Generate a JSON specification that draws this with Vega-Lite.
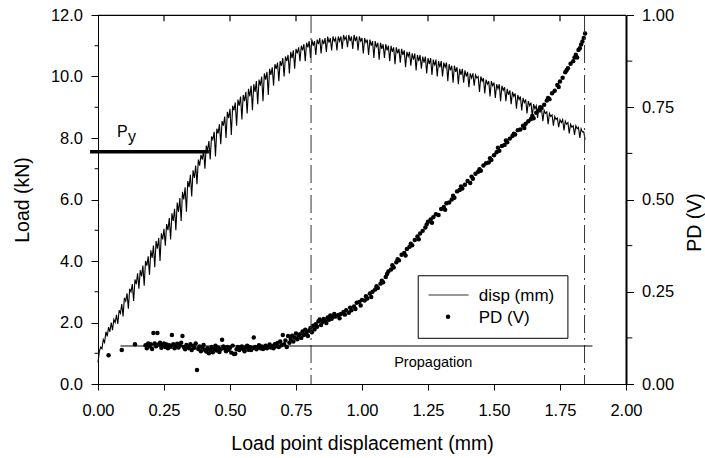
{
"$schema": "https://vega.github.io/schema/vega-lite/v6.json",
"width": 528, "height": 369,
"autosize": "none",
"padding": {"left": 98, "top": 15, "right": 79, "bottom": 74},
"config": {"view": {"stroke": null}, "font": "Liberation Sans",
 "axis": {"grid": false, "labelFlush": false, "labelOverlap": false, "domainColor": "black", "tickColor": "black", "labelColor": "black", "titleColor": "black", "labelFont": "Liberation Sans", "titleFont": "Liberation Sans", "labelFontSize": 16.5, "titleFontSize": 19.5, "titleFontWeight": "normal"},
 "text": {"font": "Liberation Sans", "color": "black"}},
"datasets": {
"load": [
{"x":0,"y":0.7},{"x":0.005,"y":1.05},{"x":0.01,"y":1.2},{"x":0.015,"y":1.15},{"x":0.02,"y":1.45},{"x":0.025,"y":1.35},{"x":0.03,"y":1.7},{"x":0.035,"y":1.55},{"x":0.04,"y":1.85},{"x":0.045,"y":1.7},
{"x":0.05,"y":2.0},{"x":0.055,"y":1.75},{"x":0.06,"y":2.1},{"x":0.065,"y":2.0},{"x":0.07,"y":2.25},{"x":0.075,"y":1.95},{"x":0.08,"y":2.4},{"x":0.085,"y":2.3},{"x":0.09,"y":2.6},{"x":0.095,"y":2.2},
{"x":0.1,"y":2.8},{"x":0.105,"y":2.7},{"x":0.11,"y":2.95},{"x":0.115,"y":2.45},{"x":0.12,"y":3.1},{"x":0.125,"y":3.0},{"x":0.13,"y":3.25},{"x":0.135,"y":2.7},{"x":0.14,"y":3.4},{"x":0.145,"y":3.25},
{"x":0.15,"y":3.6},{"x":0.155,"y":3.1},{"x":0.16,"y":3.7},{"x":0.165,"y":3.5},{"x":0.17,"y":3.85},{"x":0.175,"y":3.2},{"x":0.18,"y":4.0},{"x":0.185,"y":3.85},{"x":0.19,"y":4.15},{"x":0.195,"y":3.55},
{"x":0.2,"y":4.35},{"x":0.205,"y":4.1},{"x":0.21,"y":4.5},{"x":0.215,"y":3.8},{"x":0.22,"y":4.65},{"x":0.225,"y":4.4},{"x":0.23,"y":4.75},{"x":0.235,"y":4.0},{"x":0.24,"y":4.9},{"x":0.245,"y":4.7},
{"x":0.25,"y":5.05},{"x":0.255,"y":4.5},{"x":0.26,"y":5.2},{"x":0.265,"y":5.0},{"x":0.27,"y":5.4},{"x":0.275,"y":4.7},{"x":0.28,"y":5.55},{"x":0.285,"y":5.3},{"x":0.29,"y":5.7},{"x":0.295,"y":5.0},
{"x":0.3,"y":5.9},{"x":0.305,"y":5.6},{"x":0.31,"y":6.05},{"x":0.315,"y":5.3},{"x":0.32,"y":6.25},{"x":0.325,"y":6.0},{"x":0.33,"y":6.4},{"x":0.335,"y":5.6},{"x":0.34,"y":6.6},{"x":0.345,"y":6.4},
{"x":0.35,"y":6.8},{"x":0.355,"y":6.1},{"x":0.36,"y":6.95},{"x":0.365,"y":6.7},{"x":0.37,"y":7.1},{"x":0.375,"y":6.5},{"x":0.38,"y":7.3},{"x":0.385,"y":7.1},{"x":0.39,"y":7.45},{"x":0.395,"y":7.3},
{"x":0.4,"y":7.6},{"x":0.405,"y":7.0},{"x":0.41,"y":7.75},{"x":0.415,"y":7.6},{"x":0.42,"y":7.9},{"x":0.425,"y":7.3},{"x":0.43,"y":8.05},{"x":0.435,"y":7.95},{"x":0.44,"y":8.2},{"x":0.445,"y":7.4},
{"x":0.45,"y":8.3},{"x":0.455,"y":8.15},{"x":0.46,"y":8.45},{"x":0.465,"y":7.8},{"x":0.47,"y":8.55},{"x":0.475,"y":8.4},{"x":0.48,"y":8.7},{"x":0.485,"y":8.0},{"x":0.49,"y":8.85},{"x":0.495,"y":8.65},
{"x":0.5,"y":8.95},{"x":0.505,"y":8.1},{"x":0.51,"y":9.05},{"x":0.515,"y":8.9},{"x":0.52,"y":9.15},{"x":0.525,"y":8.4},{"x":0.53,"y":9.25},{"x":0.535,"y":9.05},{"x":0.54,"y":9.35},{"x":0.545,"y":8.6},
{"x":0.55,"y":9.4},{"x":0.555,"y":9.2},{"x":0.56,"y":9.5},{"x":0.565,"y":8.8},{"x":0.57,"y":9.6},{"x":0.575,"y":9.35},{"x":0.58,"y":9.7},{"x":0.585,"y":8.9},{"x":0.59,"y":9.75},{"x":0.595,"y":9.5},
{"x":0.6,"y":9.85},{"x":0.605,"y":9.1},{"x":0.61,"y":9.9},{"x":0.615,"y":9.7},{"x":0.62,"y":10.0},{"x":0.625,"y":9.2},{"x":0.63,"y":10.1},{"x":0.635,"y":9.9},{"x":0.64,"y":10.15},{"x":0.645,"y":9.4},
{"x":0.65,"y":10.25},{"x":0.655,"y":10.05},{"x":0.66,"y":10.3},{"x":0.665,"y":9.7},{"x":0.67,"y":10.4},{"x":0.675,"y":10.25},{"x":0.68,"y":10.45},{"x":0.685,"y":9.85},{"x":0.69,"y":10.5},{"x":0.695,"y":10.35},
{"x":0.7,"y":10.6},{"x":0.705,"y":10.0},{"x":0.71,"y":10.65},{"x":0.715,"y":10.5},{"x":0.72,"y":10.7},{"x":0.725,"y":10.1},{"x":0.73,"y":10.8},{"x":0.735,"y":10.6},{"x":0.74,"y":10.85},{"x":0.745,"y":10.25},
{"x":0.75,"y":10.9},{"x":0.755,"y":10.75},{"x":0.76,"y":10.95},{"x":0.765,"y":10.5},{"x":0.77,"y":11.0},{"x":0.775,"y":10.85},{"x":0.78,"y":11.05},{"x":0.785,"y":10.5},{"x":0.79,"y":11.1},{"x":0.795,"y":10.95},
{"x":0.8,"y":11.15},{"x":0.805,"y":10.6},{"x":0.81,"y":11.2},{"x":0.815,"y":11.0},{"x":0.82,"y":11.15},{"x":0.825,"y":10.7},{"x":0.83,"y":11.2},{"x":0.835,"y":11.05},{"x":0.84,"y":11.25},{"x":0.845,"y":10.75},
{"x":0.85,"y":11.2},{"x":0.855,"y":11.05},{"x":0.86,"y":11.25},{"x":0.865,"y":10.8},{"x":0.87,"y":11.3},{"x":0.875,"y":11.1},{"x":0.88,"y":11.25},{"x":0.885,"y":10.85},{"x":0.89,"y":11.3},{"x":0.895,"y":11.15},
{"x":0.9,"y":11.25},{"x":0.905,"y":10.85},{"x":0.91,"y":11.3},{"x":0.915,"y":11.15},{"x":0.92,"y":11.3},{"x":0.925,"y":10.9},{"x":0.93,"y":11.35},{"x":0.935,"y":11.2},{"x":0.94,"y":11.3},{"x":0.945,"y":10.95},
{"x":0.95,"y":11.35},{"x":0.955,"y":11.15},{"x":0.96,"y":11.3},{"x":0.965,"y":10.9},{"x":0.97,"y":11.35},{"x":0.975,"y":11.15},{"x":0.98,"y":11.3},{"x":0.985,"y":10.85},{"x":0.99,"y":11.3},{"x":0.995,"y":11.15},
{"x":1.0,"y":11.25},{"x":1.005,"y":10.75},{"x":1.01,"y":11.25},{"x":1.015,"y":11.1},{"x":1.02,"y":11.2},{"x":1.025,"y":10.7},{"x":1.03,"y":11.2},{"x":1.035,"y":11.0},{"x":1.04,"y":11.15},{"x":1.045,"y":10.6},
{"x":1.05,"y":11.15},{"x":1.055,"y":10.95},{"x":1.06,"y":11.1},{"x":1.065,"y":10.55},{"x":1.07,"y":11.1},{"x":1.075,"y":10.9},{"x":1.08,"y":11.05},{"x":1.085,"y":10.6},{"x":1.09,"y":11.05},{"x":1.095,"y":10.85},
{"x":1.1,"y":11.0},{"x":1.105,"y":10.5},{"x":1.11,"y":11.0},{"x":1.115,"y":10.8},{"x":1.12,"y":10.95},{"x":1.125,"y":10.4},{"x":1.13,"y":10.95},{"x":1.135,"y":10.75},{"x":1.14,"y":10.9},{"x":1.145,"y":10.45},
{"x":1.15,"y":10.9},{"x":1.155,"y":10.7},{"x":1.16,"y":10.85},{"x":1.165,"y":10.3},{"x":1.17,"y":10.8},{"x":1.175,"y":10.65},{"x":1.18,"y":10.8},{"x":1.185,"y":10.35},{"x":1.19,"y":10.75},{"x":1.195,"y":10.55},
{"x":1.2,"y":10.75},{"x":1.205,"y":10.2},{"x":1.21,"y":10.7},{"x":1.215,"y":10.5},{"x":1.22,"y":10.7},{"x":1.225,"y":10.25},{"x":1.23,"y":10.65},{"x":1.235,"y":10.45},{"x":1.24,"y":10.65},{"x":1.245,"y":10.1},
{"x":1.25,"y":10.6},{"x":1.255,"y":10.4},{"x":1.26,"y":10.6},{"x":1.265,"y":10.05},{"x":1.27,"y":10.55},{"x":1.275,"y":10.35},{"x":1.28,"y":10.55},{"x":1.285,"y":10.0},{"x":1.29,"y":10.5},{"x":1.295,"y":10.3},
{"x":1.3,"y":10.5},{"x":1.305,"y":10.0},{"x":1.31,"y":10.45},{"x":1.315,"y":10.3},{"x":1.32,"y":10.45},{"x":1.325,"y":9.85},{"x":1.33,"y":10.4},{"x":1.335,"y":10.2},{"x":1.34,"y":10.35},{"x":1.345,"y":9.8},
{"x":1.35,"y":10.35},{"x":1.355,"y":10.15},{"x":1.36,"y":10.3},{"x":1.365,"y":9.75},{"x":1.37,"y":10.25},{"x":1.375,"y":10.05},{"x":1.38,"y":10.25},{"x":1.385,"y":9.8},{"x":1.39,"y":10.2},{"x":1.395,"y":10.0},
{"x":1.4,"y":10.15},{"x":1.405,"y":9.65},{"x":1.41,"y":10.1},{"x":1.415,"y":9.95},{"x":1.42,"y":10.1},{"x":1.425,"y":9.7},{"x":1.43,"y":10.05},{"x":1.435,"y":9.95},{"x":1.44,"y":10.0},{"x":1.445,"y":9.5},
{"x":1.45,"y":10.0},{"x":1.455,"y":9.85},{"x":1.46,"y":9.95},{"x":1.465,"y":9.45},{"x":1.47,"y":9.9},{"x":1.475,"y":9.75},{"x":1.48,"y":9.85},{"x":1.485,"y":9.35},{"x":1.49,"y":9.85},{"x":1.495,"y":9.7},
{"x":1.5,"y":9.8},{"x":1.505,"y":9.3},{"x":1.51,"y":9.75},{"x":1.515,"y":9.6},{"x":1.52,"y":9.75},{"x":1.525,"y":9.2},{"x":1.53,"y":9.7},{"x":1.535,"y":9.55},{"x":1.54,"y":9.65},{"x":1.545,"y":9.2},
{"x":1.55,"y":9.6},{"x":1.555,"y":9.4},{"x":1.56,"y":9.55},{"x":1.565,"y":9.1},{"x":1.57,"y":9.5},{"x":1.575,"y":9.35},{"x":1.58,"y":9.45},{"x":1.585,"y":8.95},{"x":1.59,"y":9.4},{"x":1.595,"y":9.25},
{"x":1.6,"y":9.35},{"x":1.605,"y":8.9},{"x":1.61,"y":9.3},{"x":1.615,"y":9.15},{"x":1.62,"y":9.25},{"x":1.625,"y":8.8},{"x":1.63,"y":9.2},{"x":1.635,"y":9.05},{"x":1.64,"y":9.15},{"x":1.645,"y":8.7},
{"x":1.65,"y":9.1},{"x":1.655,"y":8.95},{"x":1.66,"y":9.05},{"x":1.665,"y":8.65},{"x":1.67,"y":9.0},{"x":1.675,"y":8.85},{"x":1.68,"y":8.95},{"x":1.685,"y":8.55},{"x":1.69,"y":8.9},{"x":1.695,"y":8.8},
{"x":1.7,"y":8.85},{"x":1.705,"y":8.45},{"x":1.71,"y":8.8},{"x":1.715,"y":8.7},{"x":1.72,"y":8.75},{"x":1.725,"y":8.4},{"x":1.73,"y":8.7},{"x":1.735,"y":8.6},{"x":1.74,"y":8.65},{"x":1.745,"y":8.35},
{"x":1.75,"y":8.6},{"x":1.755,"y":8.5},{"x":1.76,"y":8.6},{"x":1.765,"y":8.25},{"x":1.77,"y":8.55},{"x":1.775,"y":8.45},{"x":1.78,"y":8.5},{"x":1.785,"y":8.15},{"x":1.79,"y":8.45},{"x":1.795,"y":8.35},
{"x":1.8,"y":8.4},{"x":1.805,"y":8.1},{"x":1.81,"y":8.4},{"x":1.815,"y":8.3},{"x":1.82,"y":8.35},{"x":1.825,"y":8.0},{"x":1.83,"y":8.3},{"x":1.835,"y":8.2},{"x":1.84,"y":8.2},{"x":1.845,"y":7.95}
],
"pd": [
{"x":0.04,"v":0.078},{"x":0.09,"v":0.092},{"x":0.14,"v":0.108},{"x":0.18,"v":0.105},{"x":0.185,"v":0.097},{"x":0.19,"v":0.11},{"x":0.195,"v":0.102},{"x":0.2,"v":0.108},{"x":0.205,"v":0.095},{"x":0.21,"v":0.138},
{"x":0.215,"v":0.11},{"x":0.22,"v":0.102},{"x":0.225,"v":0.138},{"x":0.23,"v":0.107},{"x":0.235,"v":0.112},{"x":0.24,"v":0.098},{"x":0.245,"v":0.104},{"x":0.25,"v":0.11},{"x":0.255,"v":0.1},{"x":0.26,"v":0.107},
{"x":0.265,"v":0.097},{"x":0.27,"v":0.105},{"x":0.275,"v":0.101},{"x":0.28,"v":0.133},{"x":0.285,"v":0.108},{"x":0.29,"v":0.097},{"x":0.295,"v":0.103},{"x":0.3,"v":0.109},{"x":0.305,"v":0.099},{"x":0.31,"v":0.104},
{"x":0.315,"v":0.112},{"x":0.32,"v":0.13},{"x":0.325,"v":0.1},{"x":0.33,"v":0.094},{"x":0.335,"v":0.106},{"x":0.34,"v":0.101},{"x":0.345,"v":0.097},{"x":0.35,"v":0.108},{"x":0.355,"v":0.092},{"x":0.36,"v":0.103},
{"x":0.365,"v":0.098},{"x":0.37,"v":0.11},{"x":0.375,"v":0.038},{"x":0.38,"v":0.095},{"x":0.385,"v":0.102},{"x":0.39,"v":0.089},{"x":0.395,"v":0.099},{"x":0.4,"v":0.106},{"x":0.405,"v":0.093},{"x":0.41,"v":0.088},
{"x":0.415,"v":0.097},{"x":0.42,"v":0.083},{"x":0.425,"v":0.092},{"x":0.43,"v":0.1},{"x":0.435,"v":0.086},{"x":0.44,"v":0.095},{"x":0.445,"v":0.104},{"x":0.45,"v":0.091},{"x":0.455,"v":0.098},{"x":0.46,"v":0.087},
{"x":0.465,"v":0.094},{"x":0.47,"v":0.12},{"x":0.475,"v":0.102},{"x":0.48,"v":0.096},{"x":0.485,"v":0.089},{"x":0.49,"v":0.1},{"x":0.495,"v":0.093},{"x":0.5,"v":0.098},{"x":0.505,"v":0.085},{"x":0.51,"v":0.104},
{"x":0.515,"v":0.081},{"x":0.52,"v":0.082},{"x":0.525,"v":0.094},{"x":0.53,"v":0.1},{"x":0.535,"v":0.092},{"x":0.54,"v":0.097},{"x":0.545,"v":0.102},{"x":0.55,"v":0.095},{"x":0.555,"v":0.089},{"x":0.56,"v":0.099},
{"x":0.565,"v":0.104},{"x":0.57,"v":0.093},{"x":0.575,"v":0.1},{"x":0.58,"v":0.092},{"x":0.585,"v":0.097},{"x":0.59,"v":0.126},{"x":0.595,"v":0.1},{"x":0.6,"v":0.094},{"x":0.605,"v":0.099},{"x":0.61,"v":0.105},
{"x":0.615,"v":0.097},{"x":0.62,"v":0.102},{"x":0.625,"v":0.095},{"x":0.63,"v":0.1},{"x":0.635,"v":0.104},{"x":0.64,"v":0.097},{"x":0.645,"v":0.101},{"x":0.65,"v":0.107},{"x":0.655,"v":0.099},{"x":0.66,"v":0.103},
{"x":0.665,"v":0.097},{"x":0.67,"v":0.108},{"x":0.675,"v":0.102},{"x":0.68,"v":0.111},{"x":0.685,"v":0.1},{"x":0.69,"v":0.115},{"x":0.695,"v":0.105},{"x":0.7,"v":0.133},{"x":0.705,"v":0.108},{"x":0.71,"v":0.118},
{"x":0.715,"v":0.1},{"x":0.72,"v":0.13},{"x":0.725,"v":0.112},{"x":0.73,"v":0.122},{"x":0.735,"v":0.131},{"x":0.74,"v":0.115},{"x":0.745,"v":0.126},{"x":0.75,"v":0.137},{"x":0.755,"v":0.121},{"x":0.76,"v":0.128},
{"x":0.765,"v":0.135},{"x":0.77,"v":0.125},{"x":0.775,"v":0.142},{"x":0.78,"v":0.133},{"x":0.785,"v":0.147},{"x":0.79,"v":0.138},{"x":0.795,"v":0.13},{"x":0.8,"v":0.145},{"x":0.805,"v":0.152},{"x":0.81,"v":0.14},
{"x":0.815,"v":0.158},{"x":0.82,"v":0.148},{"x":0.825,"v":0.162},{"x":0.83,"v":0.155},{"x":0.835,"v":0.17},{"x":0.84,"v":0.175},{"x":0.845,"v":0.16},{"x":0.85,"v":0.168},{"x":0.855,"v":0.176},{"x":0.86,"v":0.172},
{"x":0.865,"v":0.165},{"x":0.87,"v":0.18},{"x":0.875,"v":0.174},{"x":0.88,"v":0.186},{"x":0.885,"v":0.177},{"x":0.89,"v":0.182},{"x":0.895,"v":0.19},{"x":0.9,"v":0.183},{"x":0.91,"v":0.187},{"x":0.915,"v":0.178},
{"x":0.92,"v":0.19},{"x":0.93,"v":0.195},{"x":0.935,"v":0.188},{"x":0.94,"v":0.2},{"x":0.95,"v":0.193},{"x":0.955,"v":0.207},{"x":0.96,"v":0.2},{"x":0.97,"v":0.21},{"x":0.975,"v":0.203},{"x":0.98,"v":0.22},
{"x":0.99,"v":0.222},{"x":0.995,"v":0.213},{"x":1.0,"v":0.228},{"x":1.01,"v":0.226},{"x":1.015,"v":0.238},{"x":1.02,"v":0.232},{"x":1.03,"v":0.245},{"x":1.035,"v":0.236},{"x":1.04,"v":0.25},{"x":1.05,"v":0.256},
{"x":1.055,"v":0.265},{"x":1.06,"v":0.26},{"x":1.07,"v":0.272},{"x":1.075,"v":0.28},{"x":1.08,"v":0.276},{"x":1.09,"v":0.29},{"x":1.095,"v":0.298},{"x":1.1,"v":0.305},{"x":1.11,"v":0.31},{"x":1.115,"v":0.322},
{"x":1.12,"v":0.316},{"x":1.13,"v":0.33},{"x":1.135,"v":0.338},{"x":1.14,"v":0.335},{"x":1.15,"v":0.35},{"x":1.16,"v":0.355},{"x":1.165,"v":0.348},{"x":1.17,"v":0.366},{"x":1.18,"v":0.372},{"x":1.185,"v":0.38},
{"x":1.19,"v":0.376},{"x":1.2,"v":0.39},{"x":1.21,"v":0.4},{"x":1.215,"v":0.392},{"x":1.22,"v":0.408},{"x":1.23,"v":0.415},{"x":1.24,"v":0.424},{"x":1.245,"v":0.432},{"x":1.25,"v":0.44},{"x":1.26,"v":0.446},
{"x":1.265,"v":0.437},{"x":1.27,"v":0.452},{"x":1.28,"v":0.46},{"x":1.29,"v":0.458},{"x":1.3,"v":0.474},{"x":1.31,"v":0.48},{"x":1.315,"v":0.472},{"x":1.32,"v":0.49},{"x":1.33,"v":0.492},{"x":1.34,"v":0.5},
{"x":1.345,"v":0.51},{"x":1.35,"v":0.505},{"x":1.36,"v":0.522},{"x":1.37,"v":0.526},{"x":1.375,"v":0.535},{"x":1.38,"v":0.53},{"x":1.39,"v":0.54},{"x":1.4,"v":0.55},{"x":1.41,"v":0.545},{"x":1.415,"v":0.562},
{"x":1.42,"v":0.556},{"x":1.43,"v":0.57},{"x":1.44,"v":0.575},{"x":1.445,"v":0.582},{"x":1.45,"v":0.578},{"x":1.46,"v":0.592},{"x":1.47,"v":0.598},{"x":1.48,"v":0.6},{"x":1.485,"v":0.612},{"x":1.49,"v":0.607},
{"x":1.5,"v":0.62},{"x":1.51,"v":0.628},{"x":1.515,"v":0.64},{"x":1.52,"v":0.632},{"x":1.53,"v":0.645},{"x":1.54,"v":0.648},{"x":1.545,"v":0.66},{"x":1.55,"v":0.655},{"x":1.56,"v":0.665},{"x":1.57,"v":0.672},
{"x":1.575,"v":0.678},{"x":1.58,"v":0.676},{"x":1.59,"v":0.688},{"x":1.6,"v":0.69},{"x":1.61,"v":0.7},{"x":1.615,"v":0.694},{"x":1.62,"v":0.705},{"x":1.63,"v":0.712},{"x":1.64,"v":0.718},{"x":1.645,"v":0.726},
{"x":1.65,"v":0.72},{"x":1.66,"v":0.735},{"x":1.67,"v":0.742},{"x":1.675,"v":0.75},{"x":1.68,"v":0.748},{"x":1.69,"v":0.757},{"x":1.7,"v":0.768},{"x":1.705,"v":0.775},{"x":1.71,"v":0.772},{"x":1.72,"v":0.788},
{"x":1.73,"v":0.795},{"x":1.74,"v":0.81},{"x":1.745,"v":0.805},{"x":1.75,"v":0.82},{"x":1.76,"v":0.83},{"x":1.77,"v":0.845},{"x":1.775,"v":0.85},{"x":1.78,"v":0.856},{"x":1.79,"v":0.868},{"x":1.8,"v":0.875},
{"x":1.805,"v":0.885},{"x":1.81,"v":0.892},{"x":1.815,"v":0.885},{"x":1.82,"v":0.905},{"x":1.825,"v":0.91},{"x":1.83,"v":0.92},{"x":1.835,"v":0.928},{"x":1.84,"v":0.938},{"x":1.845,"v":0.95}
]
},
"resolve": {"scale": {"x": "independent", "y": "independent"}, "axis": {"x": "independent", "y": "independent"}},
"layer": [
{"data": {"name": "load"},
 "mark": {"type": "line", "color": "black", "strokeWidth": 1.1},
 "encoding": {
  "x": {"field": "x", "type": "quantitative", "scale": {"domain": [0, 2], "nice": false},
   "axis": {"orient": "bottom", "values": [0, 0.25, 0.5, 0.75, 1, 1.25, 1.5, 1.75, 2], "format": ".2f", "tickSize": 6, "labelPadding": 12, "title": "Load point displacement (mm)", "titlePadding": 16}},
  "y": {"field": "y", "type": "quantitative", "scale": {"domain": [0, 12], "nice": false, "zero": false},
   "axis": {"orient": "left", "values": [0, 2, 4, 6, 8, 10, 12], "format": ".1f", "tickSize": 7, "labelPadding": 8.5, "title": "Load (kN)", "titlePadding": 18}}}},
{"data": {"name": "pd"},
 "mark": {"type": "point", "filled": true, "color": "black", "size": 20, "opacity": 1},
 "encoding": {
  "x": {"field": "x", "type": "quantitative", "scale": {"domain": [0, 2], "nice": false}, "axis": null},
  "y": {"field": "v", "type": "quantitative", "scale": {"domain": [0, 1], "nice": false, "zero": false},
   "axis": {"orient": "right", "values": [0, 0.25, 0.5, 0.75, 1], "format": ".2f", "tickSize": 7.5, "labelPadding": 8, "domainWidth": 2, "title": "PD (V)", "titleAngle": 270, "titleBaseline": "alphabetic", "titleX": 74, "titleY": 207}}}},
{"data": {"values": [{"x": 0.807}, {"x": 1.843}]},
 "mark": {"type": "rule", "color": "#333333", "strokeWidth": 1, "strokeDash": [18, 5, 2, 5]},
 "encoding": {"x": {"field": "x", "type": "quantitative", "scale": {"domain": [0, 2], "nice": false}, "axis": null}}},
{"data": {"values": [{"x1": 0, "x2": 2, "y": 11.985}]},
 "mark": {"type": "rule", "color": "black", "strokeWidth": 1.3},
 "encoding": {
  "x": {"field": "x1", "type": "quantitative", "scale": {"domain": [0, 2], "nice": false}, "axis": null},
  "x2": {"field": "x2"},
  "y": {"field": "y", "type": "quantitative", "scale": {"domain": [0, 12], "nice": false, "zero": false}, "axis": null}}},
{"data": {"values": [{"x": 0.25}, {"x": 0.5}, {"x": 0.75}, {"x": 1}, {"x": 1.25}, {"x": 1.5}, {"x": 1.75}]},
 "mark": {"type": "rule", "color": "black", "strokeWidth": 1.2},
 "encoding": {
  "x": {"field": "x", "type": "quantitative", "scale": {"domain": [0, 2], "nice": false}, "axis": null},
  "y": {"datum": 12, "type": "quantitative", "scale": {"domain": [0, 12], "nice": false, "zero": false}, "axis": null},
  "y2": {"datum": 11.8}}},
{"data": {"values": [{"y": 1}, {"y": 3}, {"y": 5}, {"y": 7}, {"y": 9}, {"y": 11}]},
 "mark": {"type": "rule", "color": "black", "strokeWidth": 1},
 "encoding": {
  "x": {"datum": 0, "type": "quantitative", "scale": {"domain": [0, 2], "nice": false}, "axis": null},
  "x2": {"datum": -0.013},
  "y": {"field": "y", "type": "quantitative", "scale": {"domain": [0, 12], "nice": false, "zero": false}, "axis": null}}},
{"data": {"values": [{"v": 0.125}, {"v": 0.375}, {"v": 0.625}, {"v": 0.875}]},
 "mark": {"type": "rule", "color": "black", "strokeWidth": 1},
 "encoding": {
  "x": {"datum": 2, "type": "quantitative", "scale": {"domain": [0, 2], "nice": false}, "axis": null},
  "x2": {"datum": 2.024},
  "y": {"field": "v", "type": "quantitative", "scale": {"domain": [0, 1], "nice": false, "zero": false}, "axis": null}}},
{"data": {"values": [{"x1": -0.03, "x2": 0.42, "y": 7.55}]},
 "mark": {"type": "rule", "color": "black", "strokeWidth": 3.5},
 "encoding": {
  "x": {"field": "x1", "type": "quantitative", "scale": {"domain": [0, 2], "nice": false}, "axis": null},
  "x2": {"field": "x2"},
  "y": {"field": "y", "type": "quantitative", "scale": {"domain": [0, 12], "nice": false, "zero": false}, "axis": null}}},
{"data": {"values": [{"x1": 0.085, "x2": 1.873, "v": 0.103}]},
 "mark": {"type": "rule", "color": "black", "strokeWidth": 1},
 "encoding": {
  "x": {"field": "x1", "type": "quantitative", "scale": {"domain": [0, 2], "nice": false}, "axis": null},
  "x2": {"field": "x2"},
  "y": {"field": "v", "type": "quantitative", "scale": {"domain": [0, 1], "nice": false, "zero": false}, "axis": null}}},
{"data": {"values": [{"x1": 1.213, "x2": 1.78, "y1": 1.486, "y2": 3.52}]},
 "mark": {"type": "rect", "fill": "white", "stroke": "black", "strokeWidth": 1},
 "encoding": {
  "x": {"field": "x1", "type": "quantitative", "scale": {"domain": [0, 2], "nice": false}, "axis": null},
  "x2": {"field": "x2"},
  "y": {"field": "y1", "type": "quantitative", "scale": {"domain": [0, 12], "nice": false, "zero": false}, "axis": null},
  "y2": {"field": "y2"}}},
{"data": {"values": [{"x1": 1.252, "x2": 1.404, "y": 2.894}]},
 "mark": {"type": "rule", "color": "#333333", "strokeWidth": 1},
 "encoding": {
  "x": {"field": "x1", "type": "quantitative", "scale": {"domain": [0, 2], "nice": false}, "axis": null},
  "x2": {"field": "x2"},
  "y": {"field": "y", "type": "quantitative", "scale": {"domain": [0, 12], "nice": false, "zero": false}, "axis": null}}},
{"data": {"values": [{"x": 1.326, "y": 2.19}]},
 "mark": {"type": "point", "filled": true, "color": "black", "size": 20, "opacity": 1},
 "encoding": {
  "x": {"field": "x", "type": "quantitative", "scale": {"domain": [0, 2], "nice": false}, "axis": null},
  "y": {"field": "y", "type": "quantitative", "scale": {"domain": [0, 12], "nice": false, "zero": false}, "axis": null}}},
{"data": {"values": [{"x": 1.442, "y": 2.7, "t": "disp (mm)"}, {"x": 1.442, "y": 1.97, "t": "PD (V)"}]},
 "mark": {"type": "text", "align": "left", "baseline": "alphabetic", "fontSize": 17, "color": "black"},
 "encoding": {
  "x": {"field": "x", "type": "quantitative", "scale": {"domain": [0, 2], "nice": false}, "axis": null},
  "y": {"field": "y", "type": "quantitative", "scale": {"domain": [0, 12], "nice": false, "zero": false}, "axis": null},
  "text": {"field": "t"}}},
{"data": {"values": [{"x": 1.27, "y": 0.55, "t": "Propagation"}]},
 "mark": {"type": "text", "align": "center", "baseline": "alphabetic", "fontSize": 14.5, "color": "black"},
 "encoding": {
  "x": {"field": "x", "type": "quantitative", "scale": {"domain": [0, 2], "nice": false}, "axis": null},
  "y": {"field": "y", "type": "quantitative", "scale": {"domain": [0, 12], "nice": false, "zero": false}, "axis": null},
  "text": {"field": "t"}}},
{"data": {"values": [{"x": 0.092, "y": 8.03, "t": "P"}]},
 "mark": {"type": "text", "align": "center", "baseline": "alphabetic", "fontSize": 16, "color": "black"},
 "encoding": {
  "x": {"field": "x", "type": "quantitative", "scale": {"domain": [0, 2], "nice": false}, "axis": null},
  "y": {"field": "y", "type": "quantitative", "scale": {"domain": [0, 12], "nice": false, "zero": false}, "axis": null},
  "text": {"field": "t"}}},
{"data": {"values": [{"x": 0.129, "y": 7.88, "t": "y"}]},
 "mark": {"type": "text", "align": "center", "baseline": "alphabetic", "fontSize": 16, "color": "black"},
 "encoding": {
  "x": {"field": "x", "type": "quantitative", "scale": {"domain": [0, 2], "nice": false}, "axis": null},
  "y": {"field": "y", "type": "quantitative", "scale": {"domain": [0, 12], "nice": false, "zero": false}, "axis": null},
  "text": {"field": "t"}}}
]
}
